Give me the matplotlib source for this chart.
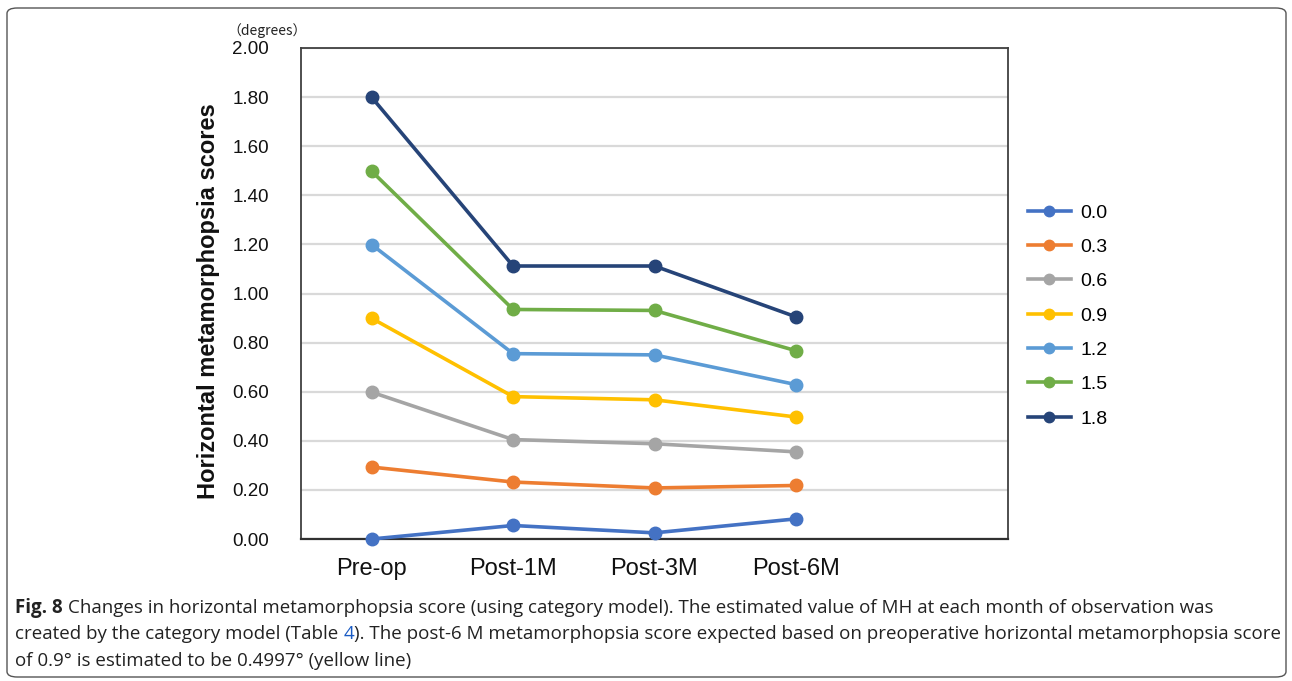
import matplotlib
matplotlib.use("Agg")
import matplotlib.pyplot as plt
from matplotlib import font_manager
from matplotlib.patches import FancyBboxPatch
from matplotlib.lines import Line2D

# ---------------- data ----------------
categories = ["Pre-op", "Post-1M", "Post-3M", "Post-6M"]
series_labels = ["0.0", "0.3", "0.6", "0.9", "1.2", "1.5", "1.8"]
s00 = [0.000, 0.055, 0.025, 0.082]
s03 = [0.293, 0.232, 0.208, 0.218]
s06 = [0.598, 0.405, 0.388, 0.355]
s09 = [0.899, 0.580, 0.567, 0.497]
s12 = [1.199, 0.755, 0.750, 0.629]
s15 = [1.498, 0.935, 0.931, 0.767]
s18 = [1.799, 1.112, 1.112, 0.905]
series_values = [s00, s03, s06, s09, s12, s15, s18]
yticks = [0.0, 0.2, 0.4, 0.6, 0.8, 1.0, 1.2, 1.4, 1.6, 1.8, 2.0]
colors = ["#4472C4", "#ED7D31", "#A5A5A5", "#FFC000", "#5B9BD5", "#70AD47", "#264478"]

caption_lines = [
    "Changes in horizontal metamorphopsia score (using category model). The estimated value of MH at each month of observation was",
    "created by the category model (Table ",
    "4",
    "). The post-6 M metamorphopsia score expected based on preoperative horizontal metamorphopsia score",
    "of 0.9° is estimated to be 0.4997° (yellow line)",
]

# ---------------- figure ----------------
W, H = 1292, 681
fig = plt.figure(figsize=(W / 100, H / 100), dpi=100)
fig.patch.set_facecolor("white")

def fx(px):
    return px / W

def fy(py):
    return 1 - py / H

ax_font = ["Liberation Sans", "DejaVu Sans"]

ax = fig.add_axes([fx(301), fy(539), fx(1008) - fx(301), fy(48) - fy(539)])
x = list(range(len(categories)))
for lab, vals, c in zip(series_labels, series_values, colors):
    ax.plot(x, vals, color=c, lw=2.6, marker="o", ms=9, label=lab,
            clip_on=False, zorder=3, solid_capstyle="round")

ax.set_xlim(-0.5, 4.5)
ax.set_ylim(0, 2.0)
ax.set_yticks(yticks)
ax.set_yticklabels([f"{v:.2f}" for v in yticks], fontfamily=ax_font, fontsize=13.5, color="#111111")
ax.set_xticks(x)
ax.set_xticklabels(categories, fontfamily=ax_font, fontsize=17, color="#111111")
ax.tick_params(axis="y", length=0, pad=23)
ax.tick_params(axis="x", length=0, pad=14)
ax.grid(axis="y", color="#D9D9D9", lw=1.6, zorder=0)
ax.set_axisbelow(True)
for sp in ax.spines.values():
    sp.set_color("#404040")
    sp.set_linewidth(1.3)
ax.spines["bottom"].set_linewidth(1.6)
ax.spines["bottom"].set_color("#303030")

fig.text(fx(208), fy(301), "Horizontal metamorphopsia scores", rotation=90,
         ha="center", va="center", fontsize=17, fontweight="bold",
         fontfamily=ax_font, color="#111111")
fig.text(fx(267), fy(31), "（degrees）", ha="center", va="center", fontsize=10,
         fontfamily=["Noto Sans CJK JP", "DejaVu Sans"], color="#222222")

handles = [Line2D([], [], color=c, lw=2.6, marker="o", ms=7.5) for c in colors]
leg = fig.legend(handles, series_labels, loc="upper left",
                 bbox_to_anchor=(fx(1028), fy(204)), frameon=False,
                 prop={"family": ax_font, "size": 14},
                 handlelength=2.2, handletextpad=0.5, labelspacing=0.86,
                 borderpad=0, borderaxespad=0)

# ---------------- border ----------------
border = FancyBboxPatch((fx(7), fy(677)), fx(1286) - fx(7), fy(8) - fy(677),
                        boxstyle="round,pad=0,rounding_size=0.008",
                        transform=fig.transFigure, fill=False,
                        edgecolor="#555555", lw=1.0)
fig.patches.append(border)

# ---------------- caption ----------------
avail = {f.name for f in font_manager.fontManager.ttflist}
cap_fam = "Liberation Sans Narrow" if "Liberation Sans Narrow" in avail else "Open Sans"
cap_color = "#222222"
renderer = fig.canvas.get_renderer()

def width_px(t):
    return t.get_window_extent(renderer=renderer).width

# fit font size so the second (longest) line spans about the reference width
fs = 13.0
probe = fig.text(0, 0, caption_lines[1] + caption_lines[2] + caption_lines[3],
                 fontsize=fs, fontfamily=cap_fam)
wp = width_px(probe)
probe.remove()
fs = fs * (1275 - 15) / wp

x0 = fx(15)
y1, y2, y3 = fy(608), fy(634), fy(661)
t = fig.text(x0, y1, "Fig. 8 ", fontsize=fs, fontfamily=cap_fam, fontweight="bold",
             va="center", color=cap_color)
xx = x0 + width_px(t) / W
fig.text(xx, y1, caption_lines[0], fontsize=fs, fontfamily=cap_fam, va="center", color=cap_color)

xx = x0
for piece, col in [(caption_lines[1], cap_color), (caption_lines[2], "#1a5bc4"),
                   (caption_lines[3], cap_color)]:
    t = fig.text(xx, y2, piece, fontsize=fs, fontfamily=cap_fam, va="center", color=col)
    xx += width_px(t) / W
fig.text(x0, y3, caption_lines[4], fontsize=fs, fontfamily=cap_fam, va="center", color=cap_color)

fig.savefig("out.png", dpi=100, facecolor="white")
